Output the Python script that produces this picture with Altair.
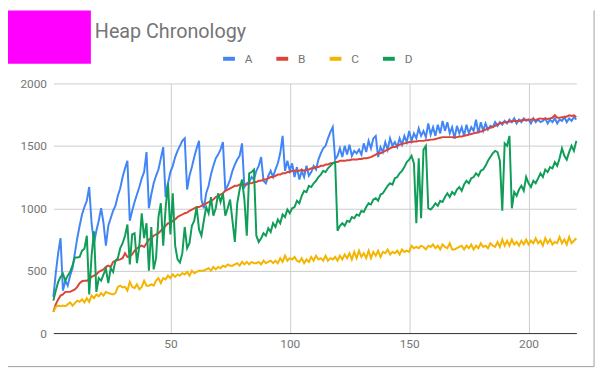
import altair as alt
import pandas as pd

series_names = ["A", "B", "C", "D"]
series_colors = ["#4285F4", "#DB4437", "#F4B400", "#0F9D58"]
x_values = list(range(1, 221))
x_ticks = [50, 100, 150, 200]
y_ticks = [0, 500, 1000, 1500, 2000]

a_values = [
    290, 480, 640, 760, 340, 420, 380, 460, 520, 640,
    760, 860, 950, 1010, 1060, 1170, 880, 720, 820, 900,
    1000, 880, 700, 860, 920, 980, 1020, 1100, 1160, 1250,
    1320, 1380, 900, 980, 1050, 1110, 1170, 1240, 1290, 1450,
    1000, 1110, 1200, 1260, 1310, 1400, 1490, 1090, 1200, 1290,
    1340, 1410, 1460, 1500, 1540, 1560, 1150, 1260, 1330, 1410,
    1480, 1540, 1070, 1000, 1120, 1180, 1270, 1340, 1400, 1430,
    1470, 1530, 1150, 1180, 1230, 1300, 1350, 1390, 1420, 1520,
    1170, 1200, 1210, 1250, 1230, 1300, 1340, 1410, 1220, 1200,
    1260, 1300, 1250, 1310, 1360, 1440, 1580, 1300, 1380, 1300,
    1360, 1250, 1330, 1230, 1300, 1250, 1340, 1260, 1290, 1340,
    1310, 1390, 1440, 1480, 1500, 1560, 1610, 1650, 1390, 1420,
    1480, 1410, 1500, 1430, 1510, 1420, 1460, 1440, 1470, 1430,
    1520, 1450, 1540, 1480, 1560, 1580, 1410, 1490, 1450, 1530,
    1470, 1560, 1500, 1530, 1490, 1560, 1510, 1580, 1530, 1620,
    1540, 1600, 1560, 1640, 1580, 1620, 1570, 1680, 1590, 1650,
    1580, 1670, 1600, 1700, 1620, 1690, 1600, 1650, 1560, 1660,
    1600, 1650, 1580, 1670, 1600, 1650, 1620, 1710, 1600, 1690,
    1620, 1680, 1630, 1660, 1650, 1690, 1660, 1690, 1670, 1700,
    1680, 1710, 1690, 1720, 1680, 1710, 1690, 1720, 1700, 1710,
    1680, 1720, 1690, 1710, 1690, 1700, 1720, 1680, 1710, 1690,
    1720, 1680, 1710, 1700, 1730, 1690, 1720, 1700, 1730, 1710,
]

b_values = [
    170, 230, 270, 300, 310, 330, 330, 330, 340, 350,
    370, 400, 415, 420, 420, 430, 450, 460, 470, 490,
    500, 510, 530, 540, 530, 570, 580, 585, 590, 600,
    640, 610, 615, 630, 660, 680, 690, 700, 690, 720,
    750, 760, 780, 790, 800, 820, 840, 860, 880, 880,
    900, 910, 930, 940, 950, 960, 965, 980, 990, 1000,
    1010, 1010, 1020, 1030, 1040, 1050, 1060, 1070, 1090, 1100,
    1110, 1120, 1140, 1150, 1160, 1170, 1180, 1180, 1190, 1190,
    1190, 1190, 1200, 1200, 1210, 1210, 1220, 1220, 1230, 1230,
    1240, 1250, 1250, 1260, 1270, 1270, 1280, 1280, 1290, 1290,
    1300, 1300, 1300, 1300, 1310, 1300, 1310, 1310, 1320, 1320,
    1330, 1330, 1340, 1340, 1350, 1350, 1360, 1360, 1370, 1370,
    1380, 1380, 1380, 1385, 1385, 1390, 1390, 1390, 1395, 1395,
    1400, 1400, 1405, 1410, 1420, 1430, 1440, 1440, 1450, 1460,
    1470, 1480, 1490, 1490, 1500, 1510, 1515, 1520, 1525, 1530,
    1530, 1535, 1535, 1540, 1540, 1540, 1545, 1545, 1550, 1550,
    1555, 1560, 1565, 1570, 1570, 1570, 1570, 1570, 1565, 1570,
    1575, 1575, 1580, 1585, 1590, 1595, 1600, 1605, 1610, 1615,
    1620, 1630, 1640, 1645, 1650, 1660, 1670, 1680, 1685, 1690,
    1690, 1695, 1695, 1700, 1700, 1700, 1705, 1705, 1710, 1710,
    1710, 1715, 1705, 1715, 1720, 1715, 1720, 1715, 1720, 1725,
    1745, 1725, 1725, 1730, 1730, 1735, 1745, 1740, 1745, 1730,
]

c_values = [
    170, 210, 220, 215, 220, 215, 230, 245, 220, 240,
    260, 250, 270, 245, 280, 250, 300, 280, 310, 295,
    320, 300, 330, 320, 315, 310, 320, 370, 380, 365,
    370, 340, 410, 370, 360, 390, 350, 370, 420, 380,
    380, 390, 380, 420, 440, 400, 440, 430, 460, 440,
    470, 450, 470, 460, 480, 470, 490, 460, 500, 480,
    490, 500, 500, 500, 510, 520, 500, 530, 510, 530,
    520, 540, 530, 550, 540, 540, 550, 560, 540, 570,
    550, 570, 550, 570, 560, 560, 570, 550, 580, 560,
    570, 580, 560, 580, 560, 600, 570, 620, 580, 600,
    590, 610, 580, 570, 600, 560, 590, 570, 610, 580,
    620, 590, 600, 580, 620, 580, 600, 590, 610, 580,
    620, 590, 630, 600, 640, 590, 650, 600, 660, 610,
    640, 600, 660, 600, 650, 620, 660, 610, 650, 640,
    670, 630, 650, 640, 660, 630, 670, 650, 660, 650,
    700, 680, 690, 680, 700, 690, 670, 700, 690, 710,
    680, 700, 670, 710, 690, 680, 720, 670, 670, 680,
    690, 700, 670, 700, 680, 710, 670, 700, 680, 720,
    690, 700, 680, 720, 700, 690, 730, 690, 750, 700,
    740, 700, 750, 710, 730, 700, 740, 710, 750, 710,
    740, 720, 760, 720, 740, 700, 760, 720, 750, 710,
    730, 720, 770, 720, 750, 710, 770, 720, 740, 760,
]

d_values = [
    260, 340, 410, 450, 475, 420, 460, 490, 540, 605,
    605, 610, 660, 675, 780, 310, 620, 815, 330, 440,
    420, 470, 515, 400, 520, 490, 580, 600, 680, 720,
    780, 870, 550, 790, 800, 560, 700, 960, 760, 880,
    500, 850, 510, 600, 930, 1040, 700, 1000, 1200, 790,
    1120, 700, 590, 565, 640, 850, 680, 720, 860, 900,
    1010, 830, 780, 900, 1010, 960, 1090, 940, 1000, 1120,
    1050, 1120, 940, 1000, 1070, 900, 730, 1040, 1150, 1230,
    1070, 780, 1280, 1290, 1310, 780, 730, 760, 800, 780,
    840, 810, 880, 850, 910, 880, 950, 930, 990, 960,
    1000, 1010, 1060, 1040, 1100, 1140, 1130, 1180, 1170, 1200,
    1220, 1250, 1270, 1300, 1290, 1320, 1340, 1360, 1370, 820,
    860, 880, 860, 900, 890, 930, 920, 950, 940, 980,
    970, 1010, 1040, 1030, 1070, 1080, 1060, 1110, 1120, 1150,
    1180, 1200, 1190, 1240, 1250, 1280, 1300, 1330, 1370, 1390,
    1420, 1360, 880, 1400, 920, 1470, 1500, 1000, 990, 1010,
    1040, 1020, 1060, 1050, 1090, 1120, 1090, 1130, 1110, 1150,
    1170, 1140, 1190, 1220, 1200, 1240, 1250, 1280, 1260, 1300,
    1310, 1340, 1380, 1410, 1440, 1460, 1450, 1380, 980, 1520,
    1500, 1580, 1000, 1130, 1100, 1150, 1180, 1140, 1250, 1200,
    1170, 1220, 1200, 1240, 1280, 1250, 1310, 1290, 1330, 1320,
    1370, 1340, 1400, 1480, 1420, 1390, 1450, 1500, 1460, 1540,
]

rows = []
for name, vals in zip(series_names, [a_values, b_values, c_values, d_values]):
    for xv, v in zip(x_values, vals):
        rows.append({"x": xv, "value": v, "series": name})
df = pd.DataFrame(rows)

FONT = "Roboto"
GRAY = "#757575"

lines = alt.Chart(df).mark_line(strokeWidth=2).encode(
    x=alt.X(
        "x:Q",
        scale=alt.Scale(domain=[1, 220], nice=False, zero=False),
        axis=alt.Axis(
            values=x_ticks, title=None, grid=True, gridColor="#cccccc",
            domainColor="#333333", domainWidth=1, ticks=False, labelPadding=6,
            labelColor=GRAY, labelFontSize=12, labelFont=FONT, format="d",
        ),
    ),
    y=alt.Y(
        "value:Q",
        scale=alt.Scale(domain=[0, 2000], nice=False),
        axis=alt.Axis(
            values=y_ticks, title=None, grid=True, gridColor="#cccccc",
            domain=False, ticks=False, labelPadding=7, format="d",
            labelColor=GRAY, labelFontSize=12, labelFont=FONT,
        ),
    ),
    color=alt.Color(
        "series:N",
        scale=alt.Scale(domain=series_names, range=series_colors),
        legend=alt.Legend(
            orient="none", legendX=170, legendY=-33, direction="horizontal",
            columns=4, title=None, symbolType="stroke", symbolStrokeWidth=4,
            symbolSize=144, labelOffset=8, columnPadding=16, labelFontSize=12,
            labelColor=GRAY, labelFont=FONT,
        ),
    ),
)

box_data = pd.DataFrame({"k": [0]})
magenta = alt.Chart(box_data).mark_rect(color="#ff00ff").encode(
    x=alt.value(-46), x2=alt.value(38), y=alt.value(-74), y2=alt.value(-20)
)
right_border = alt.Chart(box_data).mark_rule(color="#9e9e9e").encode(
    x=alt.value(548), y=alt.value(-74), y2=alt.value(287)
)
bottom_border = alt.Chart(box_data).mark_rule(color="#9e9e9e").encode(
    x=alt.value(-46), x2=alt.value(548), y=alt.value(287)
)

chart = alt.layer(magenta, right_border, bottom_border, lines).properties(
    width=530,
    height=253,
    autosize="none",
    padding={"left": 46, "top": 74, "right": 23, "bottom": 38},
    title=alt.Title(
        "Heap Chronology", anchor="start", frame="group", fontSize=20,
        font=FONT, color=GRAY, fontWeight="normal", dx=42, offset=0, dy=32,
    ),
).configure_view(strokeWidth=0)

chart.save("out.html", embed_options={"renderer": "svg", "actions": False})
